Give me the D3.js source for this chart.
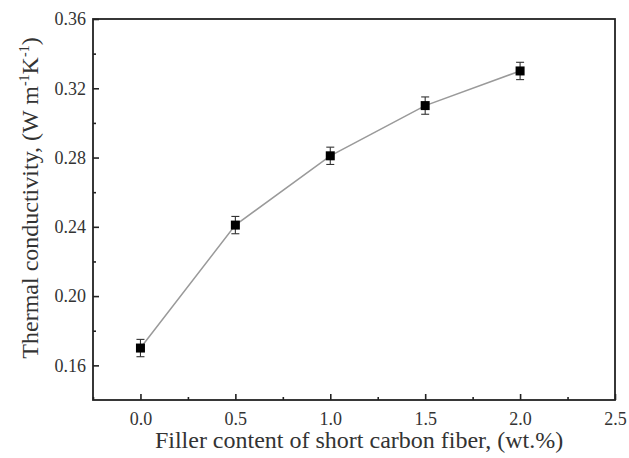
<!DOCTYPE html>
<html><head><meta charset="utf-8">
<script src="https://cdn.jsdelivr.net/npm/d3@7"></script>
<style>body{margin:0;background:#fff}svg{display:block}text{font-family:"Liberation Serif","Times New Roman",serif !important;fill:#333}</style>
</head><body><svg id="c" width="629" height="458"></svg>
<script>
const xValues = [0.0, 0.5, 1.0, 1.5, 2.0];
const yValues = [0.170, 0.241, 0.281, 0.310, 0.330];
const yErrors = [0.005, 0.005, 0.005, 0.005, 0.005];
const xTicks = [0.0, 0.5, 1.0, 1.5, 2.0, 2.5];
const xMinor = [-0.25, 0.25, 0.75, 1.25, 1.75, 2.25];
const yTicks = [0.16, 0.20, 0.24, 0.28, 0.32, 0.36];
const yMinor = [0.18, 0.22, 0.26, 0.30, 0.34];
const xTitle = "Filler content of short carbon fiber, (wt.%)";

const svg = d3.select("#c");
const L = 93, R = 615, T = 19, B = 400;
const x = d3.scaleLinear().domain([-0.25, 2.5]).range([L, R]);
const y = d3.scaleLinear().domain([0.14, 0.36]).range([B, T]);
const SERIF = '"Liberation Serif","Times New Roman",serif';

const xAxis = d3.axisBottom(x).tickValues(xTicks).tickFormat(d3.format(".1f")).tickSizeInner(-6).tickSizeOuter(0).tickPadding(12);
const gx = svg.append("g").attr("transform", `translate(0,${B})`).call(xAxis).attr("font-family", SERIF).attr("font-size", 18);
gx.select(".domain").remove();
gx.selectAll(".tick line").attr("stroke", "#222").attr("stroke-width", 1.6);
gx.selectAll("text").attr("fill", "#333");

const gxm = svg.append("g").attr("transform", `translate(0,${B})`).call(d3.axisBottom(x).tickValues(xMinor).tickFormat("").tickSizeInner(-3).tickSizeOuter(0));
gxm.select(".domain").remove();
gxm.selectAll(".tick line").attr("stroke", "#222").attr("stroke-width", 1.6);

const yAxis = d3.axisLeft(y).tickValues(yTicks).tickFormat(d3.format(".2f")).tickSizeInner(-6).tickSizeOuter(0).tickPadding(7);
const gy = svg.append("g").attr("transform", `translate(${L},0)`).call(yAxis).attr("font-family", SERIF).attr("font-size", 18);
gy.select(".domain").remove();
gy.selectAll(".tick line").attr("stroke", "#222").attr("stroke-width", 1.6);
gy.selectAll("text").attr("fill", "#333");

const gym = svg.append("g").attr("transform", `translate(${L},0)`).call(d3.axisLeft(y).tickValues(yMinor).tickFormat("").tickSizeInner(-3).tickSizeOuter(0));
gym.select(".domain").remove();
gym.selectAll(".tick line").attr("stroke", "#222").attr("stroke-width", 1.6);

svg.append("rect").attr("x", L).attr("y", T).attr("width", R - L).attr("height", B - T)
  .attr("fill", "none").attr("stroke", "#222").attr("stroke-width", 1.8);

const data = xValues.map((v, i) => ({x: v, y: yValues[i], e: yErrors[i]}));

svg.append("path").datum(data)
  .attr("d", d3.line().x(d => x(d.x)).y(d => y(d.y)))
  .attr("fill", "none").attr("stroke", "#9a9a9a").attr("stroke-width", 1.5);

const eb = svg.append("g").attr("stroke", "#333").attr("stroke-width", 1.1);
data.forEach(d => {
  const cx = x(d.x), y1 = y(d.y + d.e), y2 = y(d.y - d.e);
  eb.append("line").attr("x1", cx).attr("x2", cx).attr("y1", y1).attr("y2", y2);
  eb.append("line").attr("x1", cx - 4).attr("x2", cx + 4).attr("y1", y1).attr("y2", y1);
  eb.append("line").attr("x1", cx - 4).attr("x2", cx + 4).attr("y1", y2).attr("y2", y2);
});

svg.append("g").selectAll("rect").data(data).join("rect")
  .attr("x", d => x(d.x) - 4.5).attr("y", d => y(d.y) - 4.5)
  .attr("width", 9).attr("height", 9).attr("fill", "#000");

svg.append("text").attr("x", 359).attr("y", 448).attr("text-anchor", "middle")
  .attr("font-size", 24).text(xTitle);

const yt = svg.append("text").attr("transform", `translate(38,198) rotate(-90)`)
  .attr("text-anchor", "middle").attr("font-size", 24);
yt.append("tspan").text("Thermal conductivity, (W m");
yt.append("tspan").attr("dy", -9).attr("font-size", 14).text("-1");
yt.append("tspan").attr("dy", 9).text("K");
yt.append("tspan").attr("dy", -9).attr("font-size", 14).text("-1");
yt.append("tspan").attr("dy", 9).text(")");
</script></body></html>
